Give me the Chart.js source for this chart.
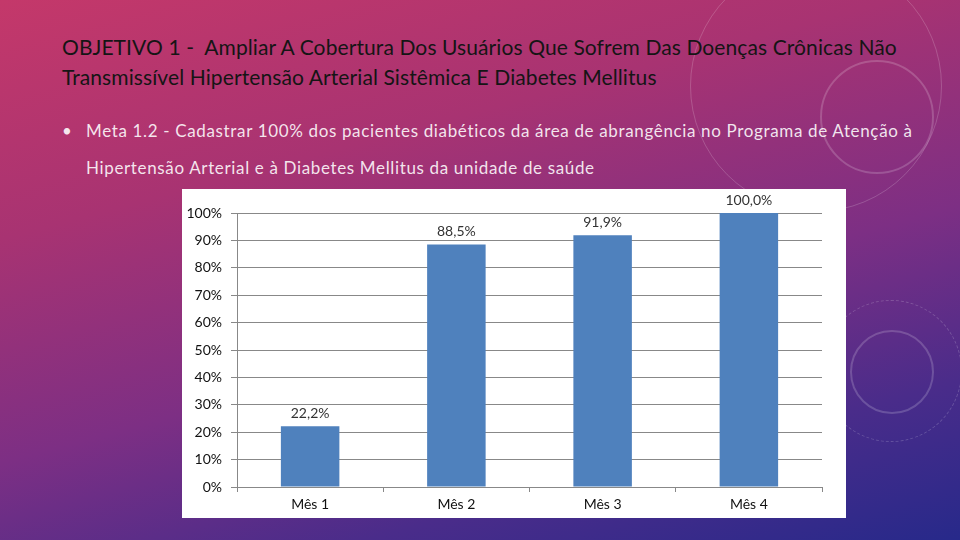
<!DOCTYPE html>
<html lang="pt">
<head>
<meta charset="UTF-8" />
<title>Meta 1.2</title>
<style>
  html, body { margin: 0; padding: 0; }
  body {
    width: 960px; height: 540px; overflow: hidden; position: relative;
    font-family: Lato, "Open Sans", sans-serif;
    background: linear-gradient(165deg, #c4386a 0%, #a83372 30%, #7d2f84 58%, #4a2c8a 80%, #27298a 100%);
  }
  .ring { position: absolute; border-radius: 50%; border: 1px solid rgba(255,255,255,0.18); }
  #title { position: absolute; left: 62px; top: 32px; width: 900px; color: #151515; font-size: 21px; letter-spacing: 0.1px; line-height: 30px; white-space: nowrap; }
  #meta { position: absolute; left: 62px; top: 112px; width: 900px; color: rgba(255,255,255,0.88); font-size: 17px; letter-spacing: 0.65px; line-height: 37px; white-space: nowrap; }
  #meta .dot { display: inline-block; width: 24px; letter-spacing: 0; }
  #meta .l2 { padding-left: 24px; }
  #box { position: absolute; left: 182px; top: 189px; width: 664px; height: 329px; background: #fff; }
</style>
</head>
<body>
  <div class="ring" style="left:690px;top:-40px;width:250px;height:250px;"></div>
  <div class="ring" style="left:820px;top:60px;width:110px;height:110px;border-width:2px;"></div>
  <div class="ring" style="left:850px;top:330px;width:80px;height:80px;border-width:2px;"></div>
  <div class="ring" style="left:820px;top:300px;width:140px;height:140px;border-style:dashed;"></div>

  <div id="title">OBJETIVO 1 -&nbsp; Ampliar A Cobertura Dos Usuários Que Sofrem Das Doenças Crônicas Não<br>Transmissível Hipertensão Arterial Sistêmica E Diabetes Mellitus</div>
  <div id="meta"><span class="dot">•</span>Meta 1.2 - Cadastrar 100% dos pacientes diabéticos da área de abrangência no Programa de Atenção à<br><span class="l2">Hipertensão Arterial e à Diabetes Mellitus da unidade de saúde</span></div>

  <div id="box"><canvas id="chart" width="664" height="329"></canvas></div>

  <script src="https://cdn.jsdelivr.net/npm/chart.js"></script>
  <script>
    const categories = ["Mês 1", "Mês 2", "Mês 3", "Mês 4"];
    const values = [22.2, 88.5, 91.9, 100.0];
    const yMin = 0;
    const yMax = 100;
    const yStep = 10;

    const fmt = (v) => v.toFixed(1).replace(".", ",") + "%";

    // value labels above each bar
    const barLabels = {
      id: "barLabels",
      afterDatasetsDraw(chart) {
        const ctx = chart.ctx;
        const meta = chart.getDatasetMeta(0);
        ctx.save();
        ctx.font = "14px Lato, sans-serif";
        ctx.fillStyle = "#333";
        ctx.textAlign = "center";
        ctx.textBaseline = "bottom";
        meta.data.forEach((bar, i) => {
          ctx.fillText(fmt(values[i]), bar.x, bar.y - 6);
        });
        ctx.restore();
      },
    };

    new Chart(document.getElementById("chart"), {
      type: "bar",
      plugins: [barLabels],
      data: {
        labels: categories,
        datasets: [{
          data: values,
          backgroundColor: "#4f81bd",
          categoryPercentage: 1,
          barPercentage: 0.4,
        }],
      },
      options: {
        responsive: false,
        animation: false,
        layout: { padding: { top: 24, right: 24, left: 0, bottom: 0 } },
        plugins: { legend: { display: false }, tooltip: { enabled: false } },
        scales: {
          x: {
            grid: { drawOnChartArea: false, drawTicks: true, tickLength: 5, color: "#888", offset: true },
            border: { color: "#888" },
            ticks: { color: "#111", font: { family: "Lato", size: 14 }, padding: 4 },
            afterFit: (s) => { s.height = 31; },
          },
          y: {
            min: yMin,
            max: yMax,
            grid: { color: "#888", tickLength: 6 },
            border: { color: "#888" },
            ticks: {
              stepSize: yStep,
              color: "#111",
              font: { family: "Lato", size: 14 },
              padding: 9,
              callback: (v) => v + "%",
            },
            afterFit: (s) => { s.width = 55; },
          },
        },
      },
    });
  </script>
</body>
</html>
